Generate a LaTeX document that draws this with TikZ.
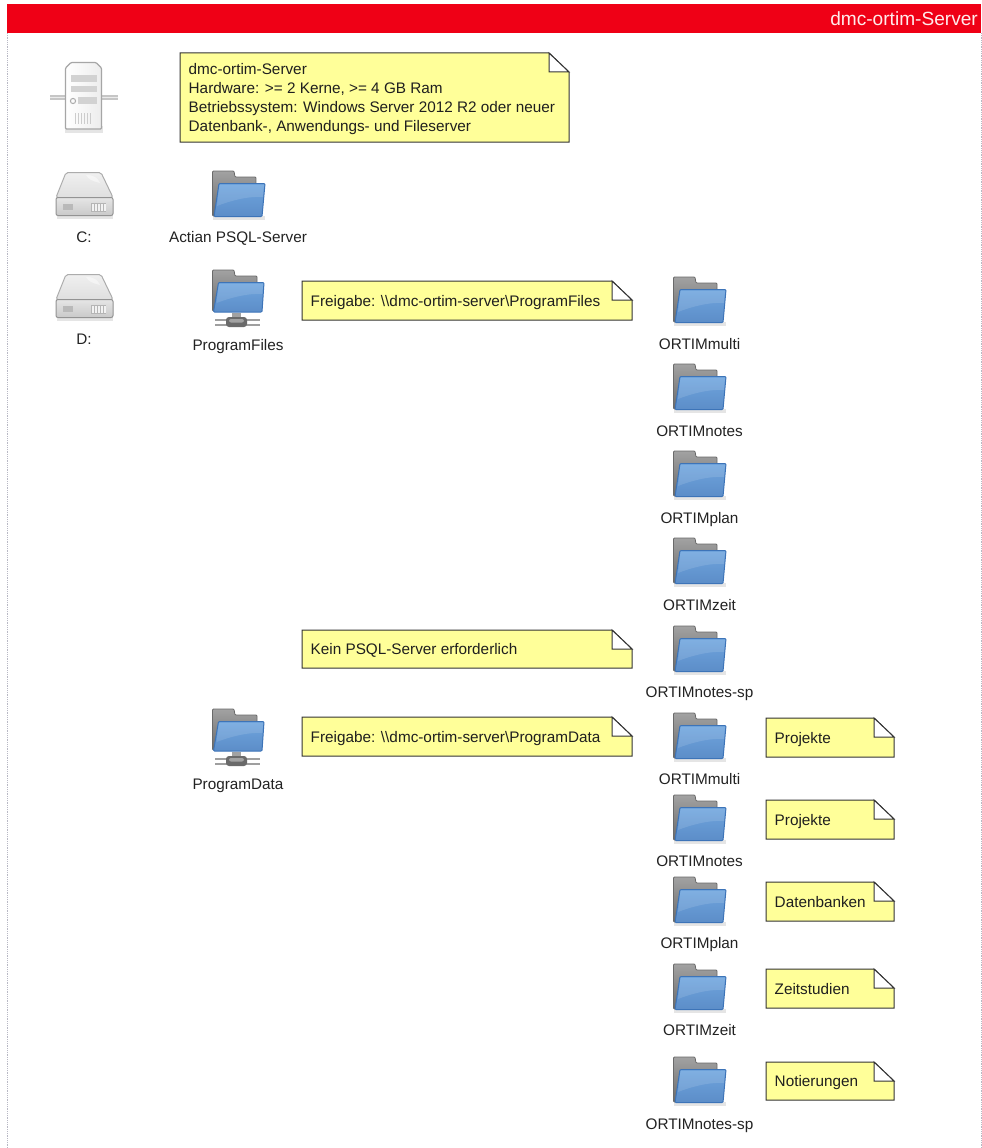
\documentclass[tikz,border=0pt]{standalone}
\usepackage{fontspec}
\setmainfont{Liberation Sans}
\definecolor{band}{HTML}{EF0016}
\definecolor{notefill}{HTML}{FFFF99}
\definecolor{noteline}{HTML}{333333}
\definecolor{frameline}{HTML}{B8B8C4}
\definecolor{labeltext}{HTML}{222222}
\definecolor{blueA}{HTML}{6FA5DE}
\definecolor{blueB}{HTML}{5C8DC8}
\definecolor{blueE}{HTML}{3D74B8}
\definecolor{grayA}{HTML}{A2A2A2}
\definecolor{grayB}{HTML}{6A6A6A}
\tikzset{
  x=1pt,y=-1pt,
  lbl/.style={font=\fontsize{15.3}{18}\selectfont,text=labeltext,inner sep=0pt,anchor=base},
  notetext/.style={font=\fontsize{15.3}{19}\selectfont,text=black!88,inner sep=0pt,anchor=west,align=left},
  noteshape/.style={draw=noteline,line width=1pt,fill=notefill,line join=miter},
  backleaf/.style={draw=grayB,line width=.8pt,top color=grayA,bottom color=grayB,rounded corners=1pt},
  frontleaf/.style={draw=blueE,line width=1pt,top color=blueA,bottom color=blueB,rounded corners=1pt},
  pics/folder/.style={code={
    \fill[black,opacity=.10] (1,46) -- (53,46) -- (53,50) -- (1,50) -- cycle;
    \draw[backleaf] (0.5,46) -- (0.5,1) -- (22,1) -- (23,7) -- (44,7) -- (44,20) -- (20,46) -- cycle;
    \draw[frontleaf] (7,13.5) -- (53,13.5) -- (50,46.5) -- (2,46.5) -- cycle;
    \fill[white,opacity=.12] (7.5,14.5) -- (52,14.5) -- (51,27) .. controls (38,26) and (20,30) .. (5,36) -- cycle;
  }},
  pics/netfolder/.style={code={
    \draw[backleaf] (0.5,42) -- (0.5,1) -- (22,1) -- (23,7) -- (45,7) -- (45,20) -- (20,42) -- cycle;
    \draw[frontleaf] (6.5,13.5) -- (52,13.5) -- (50,43) -- (1.5,43) -- cycle;
    \fill[white,opacity=.12] (7,14.5) -- (51,14.5) -- (50.5,25) .. controls (38,24) and (20,28) .. (4.5,34) -- cycle;
    \fill[grayA] (20,43.5) rectangle (29,49);
    \draw[gray!75,line width=2pt] (3,51) -- (48,51);
    \draw[gray!75,line width=2pt] (3,56) -- (48,56);
    \fill[grayB,rounded corners=3pt] (14,48) rectangle (35,58);
    \fill[grayA,rounded corners=2pt] (17,50) rectangle (32,53.5);
  }},
  pics/disk/.style={code={
    \fill[black,opacity=.10] (1,43) rectangle (57,47);
    \draw[gray!65,line width=1pt,top color=gray!12,bottom color=gray!25,rounded corners=2pt]
      (10,0.5) -- (45,0.5) -- (57,25.5) -- (0,25.5) -- cycle;
    \fill[white,opacity=.45] (30,3) .. controls (38,3) and (42,6) .. (44,11) .. controls (36,9) and (32,7) .. cycle;
    \draw[gray!85,line width=1pt,top color=gray!20,bottom color=gray!42,rounded corners=2pt]
      (0,25.5) -- (57,25.5) -- (57,43.5) -- (0,43.5) -- cycle;
    \fill[gray!55] (7,32) rectangle (17,38);
    \fill[gray!58] (35,31) rectangle (50,40);
    \foreach \k in {36,39,42,45,48}{\fill[white!90!gray] (\k,32) rectangle +(1.5,7);}
  }},
  pics/serverbox/.style={code={
    \fill[black,opacity=.10] (-1,64) rectangle (37,71);
    \fill[gray!45] (-16,33) rectangle (0,38);
    \fill[gray!45] (35,33) rectangle (52,38);
    \fill[white,opacity=.65] (-16,34.8) rectangle (0,36.2);
    \fill[white,opacity=.65] (35,34.8) rectangle (52,36.2);
    \draw[gray!70,line width=1.2pt,left color=white,right color=gray!14,rounded corners=1pt]
      (-0.5,6) -- (5,0.5) -- (30,0.5) -- (35.5,6) -- (35.5,67) -- (-0.5,67) -- cycle;
    \fill[gray!35] (5,13) rectangle (31,20);
    \fill[gray!35] (5,24) rectangle (31,30);
    \fill[gray!35] (12,35) rectangle (31,42);
    \draw[gray!65,line width=1pt] (7,39) circle (2.6);
    \foreach \k in {9,12,15,18,21,24}{\fill[gray!40] (\k,51) rectangle +(1.2,11);}
  }},
}
\newcommand{\frnote}[6]{%
  \draw[noteshape] (#2,#3) -- (#4-20,#3) -- (#4,#3+19) -- (#4,#5) -- (#2,#5) -- cycle;
  \draw[noteline,line width=1pt,fill=white] (#4-20,#3) -- (#4,#3+19) -- (#4-20,#3+19) -- cycle;
  \node[notetext] (#1) at (#2+8.5,{(#3+#5)/2+2}) {\strut #6\strut};
}
\begin{document}
\begin{tikzpicture}
\useasboundingbox (0,0) rectangle (982,1148);
\fill[white] (0,0) rectangle (982,1148);
\draw[frameline,line width=.8pt,densely dotted] (7.5,33) -- (7.5,1148);
\draw[frameline,line width=.8pt,densely dotted] (981,33) -- (981,1148);
\fill[band] (7,4) rectangle (981,33);
\node[font=\fontsize{19.1}{22}\selectfont,text=white!92!red,inner sep=0pt,anchor=base east] (title) at (978,26) {dmc-ortim-Server};

\pic at (66,62) {serverbox};
\pic at (56,172) {disk};
\pic at (56,274) {disk};
\node[lbl] (c) at (84,242) {C:};
\node[lbl] (d) at (84,344.5) {D:};

\pic at (212,170) {folder};
\node[lbl] (psql) at (238,242) {Actian PSQL-Server};
\pic at (212,269) {netfolder};
\node[lbl] (pf) at (238,350) {ProgramFiles};
\pic at (212,708) {netfolder};
\node[lbl] (pd) at (238,789.5) {ProgramData};

\frnote{n1}{180}{53}{569}{142}{dmc-ortim-Server\\Hardware: >= 2 Kerne, >= 4 GB Ram\\Betriebssystem: Windows Server 2012 R2 oder neuer\\Datenbank-, Anwendungs- und Fileserver}
\frnote{n2}{302}{281}{632}{320}{Freigabe: \textbackslash\textbackslash dmc-ortim-server\textbackslash ProgramFiles}
\frnote{n3}{302}{630}{632}{668}{Kein PSQL-Server erforderlich}
\frnote{n4}{302}{717}{632}{756}{Freigabe: \textbackslash\textbackslash dmc-ortim-server\textbackslash ProgramData}

\pic at (673,276) {folder}; \node[lbl] (a1) at (699.5,349) {ORTIMmulti};
\pic at (673,363) {folder}; \node[lbl] (a2) at (699.5,436) {ORTIMnotes};
\pic at (673,450) {folder}; \node[lbl] (a3) at (699.5,523) {ORTIMplan};
\pic at (673,537) {folder}; \node[lbl] (a4) at (699.5,610) {ORTIMzeit};
\pic at (673,625) {folder}; \node[lbl] (a5) at (699.5,697) {ORTIMnotes-sp};
\pic at (673,712) {folder}; \node[lbl] (b1) at (699.5,784) {ORTIMmulti};
\pic at (673,794) {folder}; \node[lbl] (b2) at (699.5,866) {ORTIMnotes};
\pic at (673,876) {folder}; \node[lbl] (b3) at (699.5,948) {ORTIMplan};
\pic at (673,963) {folder}; \node[lbl] (b4) at (699.5,1035) {ORTIMzeit};
\pic at (673,1056) {folder}; \node[lbl] (b5) at (699.5,1129) {ORTIMnotes-sp};

\frnote{s1}{766}{718}{894}{757}{Projekte}
\frnote{s2}{766}{800}{894}{839}{Projekte}
\frnote{s3}{766}{882}{894}{921}{Datenbanken}
\frnote{s4}{766}{969}{894}{1008}{Zeitstudien}
\frnote{s5}{766}{1062}{894}{1100}{Notierungen}
\end{tikzpicture}
\end{document}
